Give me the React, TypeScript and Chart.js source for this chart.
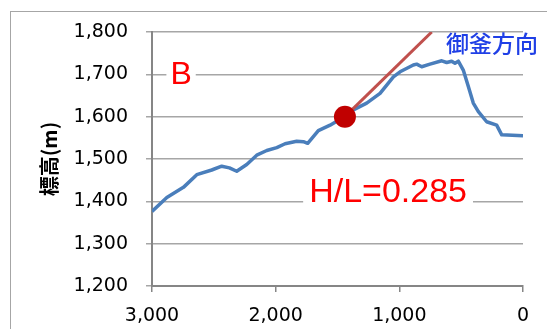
import React, { useEffect, useRef } from "react";
import { Chart, registerables } from "chart.js";

Chart.register(...registerables);

// Distance from the crater (m) and elevation (m) of the profile
const distance = [3000, 2880, 2746, 2638, 2517, 2436, 2374, 2315, 2234, 2153, 2072, 1991, 1924, 1830, 1776, 1741, 1655, 1560, 1479, 1372, 1264, 1156, 1048, 994, 887, 860, 819, 752, 657, 617, 577, 550, 523, 483, 442, 402, 361, 294, 213, 172, 0];
const elevation = [1376, 1409, 1433, 1463, 1474, 1483, 1479, 1471, 1487, 1509, 1520, 1527, 1536, 1542, 1541, 1537, 1567, 1580, 1594, 1616, 1632, 1655, 1694, 1706, 1722, 1724, 1718, 1724, 1732, 1728, 1731, 1726, 1731, 1710, 1671, 1632, 1612, 1588, 1580, 1557, 1555];

// Point B and the H/L energy line
const pointBx = [1440];
const pointBy = [1600];
const hlLineX = [1440, 738];
const hlLineY = [1600, 1800];

const yTitle = "標高(m)";
const labelB = "B";
const labelHL = "H/L=0.285";
const labelDir = "御釜方向";

const fmt = (v: number) => v.toLocaleString("en-US");

export default function App() {
  const ref = useRef<HTMLCanvasElement | null>(null);

  useEffect(() => {
    if (!ref.current) return;
    const annot = {
      id: "annot",
      beforeDraw(chart: any) {
        const ctx = chart.ctx;
        ctx.save();
        ctx.fillStyle = "#ffffff";
        ctx.fillRect(0, 0, chart.width, chart.height);
        ctx.strokeStyle = "#a6a6a6";
        ctx.lineWidth = 1;
        ctx.strokeRect(10.5, 11.5, 700, 500);
        ctx.restore();
      },
      afterDatasetsDraw(chart: any) {
        const ctx = chart.ctx;
        const x = chart.scales.x;
        const y = chart.scales.y;
        ctx.save();
        // B label
        let px = x.getPixelForValue(2765);
        let py = y.getPixelForValue(1700);
        ctx.font = "32px 'Liberation Sans', Arial, sans-serif";
        ctx.textAlign = "center";
        ctx.textBaseline = "middle";
        let w = ctx.measureText(labelB).width;
        ctx.fillStyle = "#ffffff";
        ctx.fillRect(px - w / 2 - 4, py - 14, w + 8, 28);
        ctx.fillStyle = "#ff0000";
        ctx.fillText(labelB, px, py + 1);
        // H/L label
        px = x.getPixelForValue(1091);
        py = y.getPixelForValue(1424);
        ctx.font = "34px 'Liberation Sans', Arial, sans-serif";
        w = ctx.measureText(labelHL).width;
        ctx.fillStyle = "#ffffff";
        ctx.fillRect(px - w / 2 - 6, py - 16, w + 12, 32);
        ctx.fillStyle = "#ff0000";
        ctx.fillText(labelHL, px, py + 1);
        // direction label
        px = x.getPixelForValue(622);
        py = y.getPixelForValue(1774);
        ctx.font = "500 23px 'Noto Sans CJK JP', sans-serif";
        ctx.textAlign = "left";
        ctx.fillStyle = "#1f3fe6";
        ctx.fillText(labelDir, px, py);
        // y title
        ctx.translate(49, (chart.chartArea.top + chart.chartArea.bottom) / 2);
        ctx.rotate(-Math.PI / 2);
        ctx.textAlign = "center";
        ctx.font = "bold 20px 'Noto Sans CJK JP', sans-serif";
        ctx.fillStyle = "#000000";
        ctx.fillText(yTitle, 0, 0);
        ctx.restore();
      },
    };

    const chart = new Chart(ref.current, {
      type: "line",
      data: {
        datasets: [
          {
            label: "B",
            data: pointBx.map((v, i) => ({ x: v, y: pointBy[i] })),
            showLine: false,
            pointRadius: 11,
            pointBackgroundColor: "#c00000",
            pointBorderColor: "#c00000",
            borderWidth: 0,
          },
          {
            label: "HL",
            data: hlLineX.map((v, i) => ({ x: v, y: hlLineY[i] })),
            borderColor: "#c0504d",
            borderWidth: 3,
            pointRadius: 0,
            tension: 0,
          },
          {
            label: "profile",
            data: distance.map((v, i) => ({ x: v, y: elevation[i] })),
            borderColor: "#4a7ebb",
            borderWidth: 3.5,
            pointRadius: 0,
            tension: 0,
            borderJoinStyle: "round",
          },
        ],
      },
      options: {
        animation: false,
        responsive: false,
        events: [],
        layout: { padding: { top: 32, right: 24, left: 0, bottom: 0 } },
        plugins: { legend: { display: false }, tooltip: { enabled: false } },
        scales: {
          x: {
            type: "linear",
            reverse: true,
            min: 0,
            max: 3000,
            afterFit: (s: any) => {
              s.height = 43;
            },
            ticks: {
              stepSize: 1000,
              callback: (v: any) => fmt(Number(v)),
              font: { family: "'DejaVu Sans', Verdana, sans-serif", size: 19 },
              color: "#000000",
              padding: 13,
              maxRotation: 0,
            },
            grid: { drawOnChartArea: false, tickLength: 6, color: "#868686", lineWidth: 1.5 },
            border: { color: "#868686", width: 2 },
          },
          y: {
            min: 1200,
            max: 1800,
            afterFit: (s: any) => {
              s.width = 152;
            },
            ticks: {
              stepSize: 100,
              callback: (v: any) => fmt(Number(v)),
              font: { family: "'DejaVu Sans', Verdana, sans-serif", size: 19 },
              color: "#000000",
              padding: 18,
            },
            grid: { color: "#a6a6a6", lineWidth: 1.5, tickLength: 6 },
            border: { color: "#868686", width: 2 },
          },
        },
      },
      plugins: [annot],
    });
    return () => chart.destroy();
  }, []);

  return (
    <div style={{ position: "absolute", left: 0, top: 0, width: 547, height: 329 }}>
      <canvas ref={ref} width={547} height={329} style={{ width: 547, height: 329 }} />
    </div>
  );
}
